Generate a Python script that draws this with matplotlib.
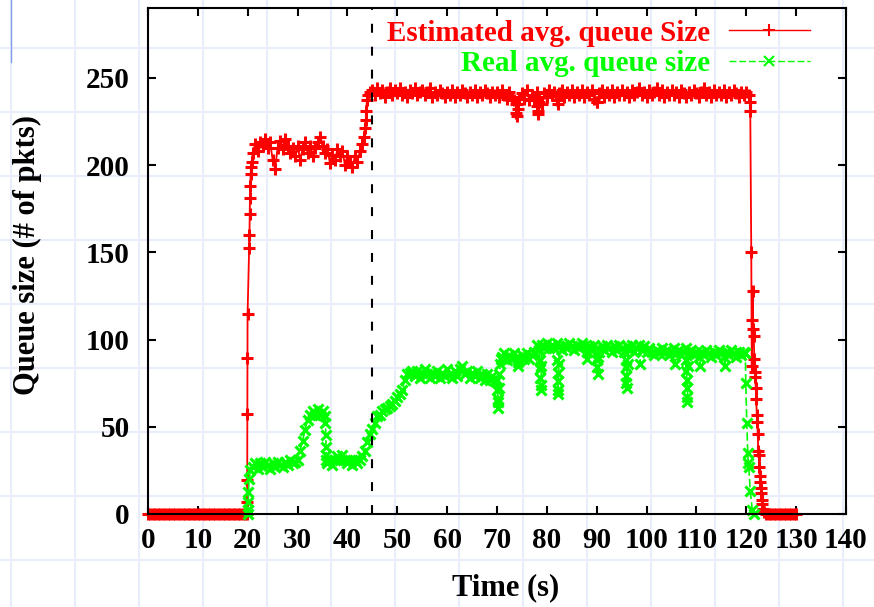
import matplotlib
matplotlib.use("Agg")
import matplotlib.pyplot as plt

# ---------------- data ----------------
STEP = 0.5  # spacing of the steady-state samples (s)

# Estimated avg. queue size
est_idle = [0] * 40                                    # t = 0 .. 19.5
est_rise_t = [19.8, 19.85, 19.9, 19.92, 19.95, 19.97, 20.3, 20.35, 20.4, 20.45, 20.5, 20.6, 20.7, 20.8]
est_rise_q = [0, 7, 19.5, 57.5, 89.5, 114.5, 152.5, 160, 172, 181, 188, 195, 199, 202]
est_plateau1 = [                                       # t = 21.0 .. 43.0
    207, 212, 208, 213, 211, 215, 210, 213, 203, 198,
    210, 214, 209, 215, 211, 207, 210, 205, 211, 203,
    209, 213, 207, 211, 205, 210, 213, 216, 211, 207,
    209, 201, 206, 203, 209, 205, 208, 200, 205, 202,
    199, 205, 202, 208, 212]
est_climb_t = [43.3, 43.5, 43.7, 43.8, 43.9, 44.2, 44.6]
est_climb_q = [216, 221, 226, 231, 237, 240, 242]
est_plateau2 = [                                       # t = 45.0 .. 120.5
    243, 240, 244, 241, 243, 239, 242, 244, 240, 243,
    241, 244, 240, 242, 239, 243, 241, 244, 240, 242,
    243, 240, 242, 244, 239, 242, 240, 243, 241, 239,
    242, 240, 243, 239, 242, 240, 243, 241, 239, 242,
    240, 243, 239, 242, 240, 243, 241, 239, 242, 240,
    242, 239, 243, 240, 238, 242, 239, 237, 235, 238,
    241, 238, 243, 237, 240, 238, 242, 239, 235, 241,
    239, 243, 240, 242, 237, 241, 243, 239, 242, 240,
    243, 239, 242, 240, 243, 239, 242, 240, 243, 238,
    236, 241, 243, 239, 242, 240, 243, 239, 242, 240,
    243, 240, 242, 239, 243, 240, 242, 244, 240, 242,
    239, 243, 240, 242, 244, 240, 243, 239, 242, 240,
    243, 240, 242, 239, 243, 241, 239, 242, 240, 243,
    241, 239, 242, 244, 240, 242, 239, 243, 240, 242,
    240, 243, 239, 242, 240, 243, 241, 239, 242, 240,
    242, 240]
est_dip_t = [73.8, 73.9, 74.1, 74.2, 78.1, 78.2, 78.3, 78.4, 82.2, 90.1]
est_dip_q = [235, 230, 228, 232, 234, 229, 231, 236, 235, 236]
est_fall_t = [120.7, 120.8, 121.0, 121.1, 121.2, 121.3, 121.4, 121.5, 121.6, 121.7, 121.8, 121.9,
              122.0, 122.1, 122.2, 122.3, 122.4, 122.5, 122.6, 122.7, 122.8, 122.9, 123.0, 123.1,
              123.2, 123.4, 123.6, 124.0]
est_fall_q = [236, 231, 150, 85, 111, 128, 106, 102, 89, 81.5, 78.5, 72,
              66, 57, 53, 46, 36, 34, 27, 22, 18.5, 15, 12, 8,
              6, 3, 1, 0]
est_tail = [0] * 12                                    # t = 124.5 .. 130

# Real avg. queue size
real_rise_t = [20.0, 20.05, 20.1, 20.15, 20.3, 20.5]
real_rise_q = [0, 2.3, 7, 12.8, 20, 25]
real_part1 = [                                         # t = 21.0 .. 35.5
    27, 29, 26, 29, 27, 30, 28, 26, 29, 27,
    30, 28, 27, 30, 28, 31, 29, 30,
    31, 36, 42, 48, 54, 57, 59, 57, 60, 57, 59, 56]
real_drop_t = [35.6, 35.65, 35.7, 35.75, 35.8]
real_drop_q = [52, 45, 38.5, 34, 31]
real_part2 = [                                         # t = 36.0 .. 69.5
    29, 31, 28, 31, 33, 31, 34, 31, 29, 31, 28, 31, 29, 31,
    33, 36, 41, 46, 49, 52, 56, 57, 59, 60, 61, 62, 63, 65, 67, 69, 71, 77, 80, 81,
    82, 79, 82, 78, 81, 83, 80, 78, 81, 79,
    82, 78, 81, 79, 83, 80, 78, 82, 79, 83,
    85, 80, 82, 78, 81, 79, 82, 78, 80, 77,
    80, 77, 79, 76]
real_jump_t = [70.0, 70.1, 70.2, 70.25, 70.3, 70.4, 70.5, 70.6, 70.8]
real_jump_q = [77, 71, 66, 61, 64, 72, 80, 86, 89]
real_part3 = [                                         # t = 71.0 .. 119.5
    90, 92, 88, 91, 89, 92, 90, 88, 91, 89,
    92, 89, 91, 93, 97, 94, 97, 95, 98, 95,
    97, 95, 98, 96, 94, 97, 95, 98, 96, 94,
    97, 95, 98, 96, 93, 96, 94, 97, 95, 93,
    96, 94, 97, 95, 93, 96, 94, 97, 95, 93,
    96, 94, 97, 93, 95, 97, 94, 96, 93, 95,
    93, 91, 94, 92, 95, 92, 94, 91, 93, 95,
    92, 94, 91, 93, 95, 92, 94, 91, 93, 90,
    93, 91, 94, 92, 90, 93, 91, 94, 92, 90,
    93, 91, 94, 92, 90, 93, 91, 93]
real_dip_t = [74.2, 74.3, 74.4,
              78.6, 78.65, 78.7, 78.75, 78.8, 78.9,
              82.1, 82.15, 82.2, 82.25, 82.3, 82.4,
              88.1, 90.1, 90.15, 90.2, 90.3,
              95.8, 95.85, 95.9, 95.95, 96.1, 96.2,
              98.6, 105.7,
              107.9, 107.95, 108.05, 108.1, 108.15, 108.2, 108.3,
              110.7, 115.7]
real_dip_q = [87, 85, 88,
              88, 83, 78, 74, 71, 85,
              88, 81, 76, 71, 69, 86,
              89, 88, 84, 80, 90,
              88, 84, 79, 75, 72, 86,
              86, 86,
              88, 82, 77, 72, 67, 64, 85,
              85, 85]
real_fall_t = [119.8, 119.9, 120.1, 120.3, 120.4, 120.5, 120.8, 121.2, 121.6]
real_fall_q = [92, 75, 52, 35, 29, 27, 13, 2.3, 0]

x_ticks = list(range(0, 141, 10))
y_ticks = list(range(0, 251, 50))
marker_time = 45  # dashed vertical line


def on_grid(start, values):
    return [start + STEP * i for i in range(len(values))], list(values)


def merge(*parts):
    pts = []
    for t, q in parts:
        pts.extend(zip(t, q))
    pts.sort(key=lambda p: p[0])
    return [p[0] for p in pts], [p[1] for p in pts]


est_t, est_q = merge(on_grid(0.0, est_idle), (est_rise_t, est_rise_q),
                     on_grid(21.0, est_plateau1), (est_climb_t, est_climb_q),
                     on_grid(45.0, est_plateau2), (est_dip_t, est_dip_q),
                     (est_fall_t, est_fall_q), on_grid(124.5, est_tail))
real_t, real_q = merge((real_rise_t, real_rise_q), on_grid(21.0, real_part1),
                       (real_drop_t, real_drop_q), on_grid(36.0, real_part2),
                       (real_jump_t, real_jump_q), on_grid(71.0, real_part3),
                       (real_dip_t, real_dip_q), (real_fall_t, real_fall_q))

# ---------------- figure ----------------
W, H = 874, 607
plt.rcParams['font.family'] = ['Liberation Serif', 'DejaVu Serif']
plt.rcParams['font.weight'] = 'bold'
plt.rcParams['axes.labelweight'] = 'bold'
plt.rcParams['font.size'] = 21

fig = plt.figure(figsize=(W / 100, H / 100), dpi=100)

# graph paper behind the plot
bg = fig.add_axes([0, 0, 1, 1], zorder=-1)
bg.set_xlim(0, W)
bg.set_ylim(H, 0)
bg.axis('off')
for gx in range(11, W, 64):
    bg.axvline(gx, color='#e8edfa', lw=1.5)
for gy in range(48, H, 64):
    bg.axhline(gy, color='#e8edfa', lw=1.5)
bg.plot([11, 11], [0, 62], color='#7f9ee8', lw=1)

left, right, top, bottom = 148, 846, 8, 514
ax = fig.add_axes([left / W, (H - bottom) / H, (right - left) / W, (bottom - top) / H])
ax.set_facecolor('none')

ax.plot(est_t, est_q, color='#ff0000', lw=1.3, marker='+', ms=8, mew=2.2,
        label='Estimated avg. queue Size', clip_on=False)
ax.plot(real_t, real_q, color='#00ff00', lw=1.2, dashes=(5, 2), marker='x', ms=7.5, mew=2.2,
        label='Real avg. queue size', clip_on=False)
ax.axvline(marker_time, color='black', lw=1.5, dashes=(4.3, 6.7))

ax.set_xlim(0, 140)
ax.set_ylim(0, 290)
ax.set_xticks(x_ticks)
ax.set_yticks(y_ticks)
ax.tick_params(direction='in', length=6, width=1.5, top=True, right=True)
ax.tick_params(axis='x', pad=9)
ax.tick_params(axis='y', pad=13)
for s in ax.spines.values():
    s.set_linewidth(1.5)

ax.set_xlabel('Time (s)', fontsize=22)
ax.set_ylabel('Queue size (# of pkts)', fontsize=22)
ax.xaxis.set_label_coords(0.513, -0.117)
ax.yaxis.set_label_coords(-0.152, 0.512)

leg = ax.legend(loc='upper right', bbox_to_anchor=(0.948, 0.977), frameon=False,
                markerfirst=False, labelcolor='linecolor', numpoints=1,
                handlelength=2.77, handletextpad=0.65, labelspacing=0.12,
                borderpad=0, borderaxespad=0)
for h in leg.legend_handles:
    h.set_markeredgewidth(1.5)
    h.set_linewidth(1)

fig.savefig('out.png', dpi=100)
